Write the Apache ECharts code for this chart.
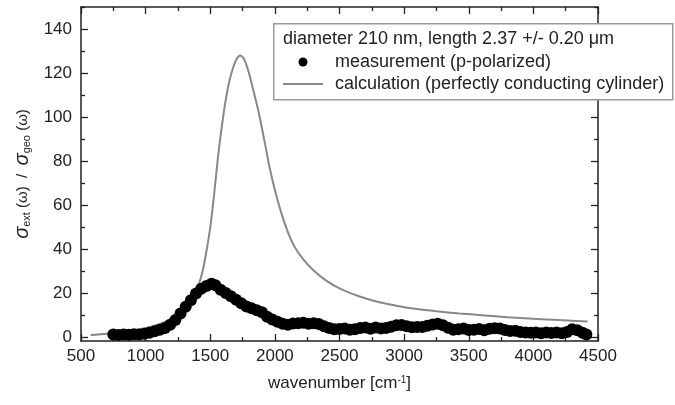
<!DOCTYPE html>
<html lang="en">
<head>
	<meta charset="UTF-8">
	<title>extinction spectrum</title>
	<script src="https://cdn.jsdelivr.net/npm/echarts@6/dist/echarts.min.js"></script>
	<style>
		html,body{margin:0;padding:0;background:#fff;}
		#view{width:675px;height:405px;}
	</style>
</head>
<body>
	<div id="view"></div>
<script>
	// measurement (p-polarized), [wavenumber, sigma_ext/sigma_geo]
	var measurement=[
		[750,1.4],[790,1.2],[830,1.5],[870,1.3],[910,1.6],[950,1.4],[990,1.8],[1030,2.2],
		[1070,2.9],[1110,3.6],[1150,4.4],[1190,5.9],[1230,8.0],[1270,11],[1310,14],[1350,17],
		[1390,20],[1430,22.2],[1470,23.5],[1510,24.5],[1540,23.8],[1580,21.7],[1620,20.3],[1660,18.8],
		[1700,17.2],[1740,15.6],[1780,14.2],[1820,13.3],[1860,12.5],[1900,11.5],[1940,9.5],[1980,8.2],
		[2020,7.2],[2060,6.3],[2100,5.9],[2140,6.4],[2180,6.6],[2220,6.8],[2260,6.3],[2300,6.6],
		[2340,6.2],[2380,5.2],[2420,4.4],[2460,3.8],[2500,3.9],[2540,4.2],[2580,3.6],[2620,3.8],
		[2660,4.4],[2700,4.6],[2740,4.1],[2780,4.6],[2820,4.2],[2860,4.4],[2900,5.0],[2940,5.6],
		[2980,5.8],[3020,5.2],[3060,4.7],[3100,4.8],[3140,4.9],[3180,5.4],[3220,6.0],[3260,6.3],
		[3300,5.6],[3340,4.5],[3380,3.6],[3420,3.8],[3460,4.2],[3500,3.5],[3540,3.6],[3580,3.9],
		[3620,3.4],[3660,4.0],[3700,4.3],[3740,4.2],[3780,3.5],[3820,3.0],[3860,3.2],[3900,2.6],
		[3940,2.4],[3980,2.2],[4020,2.3],[4060,2.0],[4100,2.4],[4140,2.1],[4180,2.3],[4220,2.0],
		[4260,2.6],[4300,3.8],[4340,3.4],[4380,2.2],[4410,1.5]
	];

	// calculation (perfectly conducting cylinder)
	var calculation=[
		[575,1.2],[700,1.8],[800,2.5],[900,3.3],[1000,4.4],[1100,6.0],[1200,8.5],[1270,11.5],
		[1330,15],[1370,19],[1410,24],[1440,30],[1470,39],[1500,50],[1530,65],[1560,82],
		[1590,96],[1620,108],[1650,117],[1680,123],[1705,126.5],[1730,128],[1760,126.5],[1795,121],
		[1830,113],[1870,103.5],[1900,95],[1930,86],[1960,77],[2000,67],[2050,56.5],[2100,48],
		[2150,41.5],[2220,35.5],[2300,30.5],[2400,25.8],[2500,22.4],[2650,18.8],[2800,16.2],[2950,14.4],
		[3100,13],[3250,12],[3430,11],[3600,10.2],[3800,9.3],[4000,8.6],[4200,8],[4420,7.4]
	];

	var yLabels=[0,20,40,60,80,100,120,140];
	var yMinor=[10,30,50,70,90,110,130,150];

	var font='"Liberation Sans", Arial, sans-serif';

	var mychart=echarts.init(document.getElementById('view'));

	function xAx(pos,label){
		return {
			type:'value',
			position:pos,
			min:500,
			max:4500,
			interval:500,
			axisLine:{show:true,onZero:false,lineStyle:{color:'#222',width:1.5}},
			axisTick:{show:true,inside:true,length:7,lineStyle:{color:'#222',width:1.3}},
			minorTick:{show:true,splitNumber:2,length:4,lineStyle:{color:'#222',width:1.3}},
			splitLine:{show:false},
			minorSplitLine:{show:false},
			axisLabel:{show:label,margin:7,color:'#222',fontSize:17,fontFamily:font,
				formatter:function(v){return String(v);}},
			name:label?'{n|wavenumber [cm}{sup|-1}{n|]}':'',
			nameLocation:'middle',
			nameGap:34,
			nameTextStyle:{
				rich:{
					n:{fontSize:17,fontFamily:font,color:'#222'},
					sup:{fontSize:10,fontFamily:font,color:'#222',verticalAlign:'top'}
				}
			}
		};
	}

	function yAx(pos,ticks,len,line,label){
		return {
			type:'value',
			position:pos,
			min:-1.5,
			max:150,
			axisLine:{show:line,onZero:false,lineStyle:{color:'#222',width:1.5}},
			axisTick:{show:true,inside:true,length:len,customValues:ticks,lineStyle:{color:'#222',width:1.3}},
			splitLine:{show:false},
			axisLabel:{show:label,customValues:yLabels,margin:9,color:'#222',fontSize:17,fontFamily:font},
			name:label?'{s|σ}{sub|ext}{n| (ω)  /  }{s|σ}{sub|geo}{n| (ω)}':'',
			nameLocation:'middle',
			nameGap:47,
			nameTextStyle:{
				rich:{
					s:{fontSize:20,fontFamily:font,fontStyle:'italic',color:'#222'},
					sub:{fontSize:11,fontFamily:font,color:'#222',verticalAlign:'bottom'},
					n:{fontSize:15,fontFamily:font,color:'#222'}
				}
			}
		};
	}

	var option={
		backgroundColor:'#fff',
		animation:false,
		grid:{left:81,right:77,top:7,bottom:64,containLabel:false},
		title:{
			text:'diameter 210 nm, length 2.37 +/- 0.20 μm',
			left:283,
			top:30,
			padding:0,
			z:20,
			textStyle:{fontSize:18,fontWeight:'normal',color:'#222',fontFamily:font}
		},
		legend:{
			orient:'vertical',
			left:283,
			top:53,
			padding:0,
			itemGap:4,
			itemWidth:40,
			itemHeight:9,
			z:20,
			textStyle:{fontSize:18,color:'#222',fontFamily:font,padding:[0,0,0,7]},
			data:[
				{name:'measurement (p-polarized)',icon:'circle',itemStyle:{color:'#000',opacity:1}},
				{name:'calculation (perfectly conducting cylinder)',icon:'path://M0,0 L40,0 L40,2 L0,2 Z'}
			]
		},
		graphic:[{
			type:'rect',
			left:273,
			top:23,
			z:10,
			shape:{width:399,height:76},
			style:{fill:'#fff',stroke:'#999',lineWidth:1.5}
		}],
		xAxis:[xAx('bottom',true),xAx('top',false)],
		yAxis:[
			yAx('left',yLabels,7,true,true),
			yAx('left',yMinor,4,false,false),
			yAx('right',yLabels,7,true,false),
			yAx('right',yMinor,4,false,false)
		],
		series:[
			{
				name:'measurement (p-polarized)',
				type:'scatter',
				data:measurement,
				symbol:'circle',
				symbolSize:12,
				itemStyle:{color:'#000',opacity:1},
				z:3
			},
			{
				name:'calculation (perfectly conducting cylinder)',
				type:'line',
				data:calculation,
				smooth:0.3,
				symbol:'none',
				lineStyle:{color:'#888',width:2},
				itemStyle:{color:'#888'},
				z:2
			}
		]
	};

	mychart.setOption(option);
</script>
</body>
</html>
